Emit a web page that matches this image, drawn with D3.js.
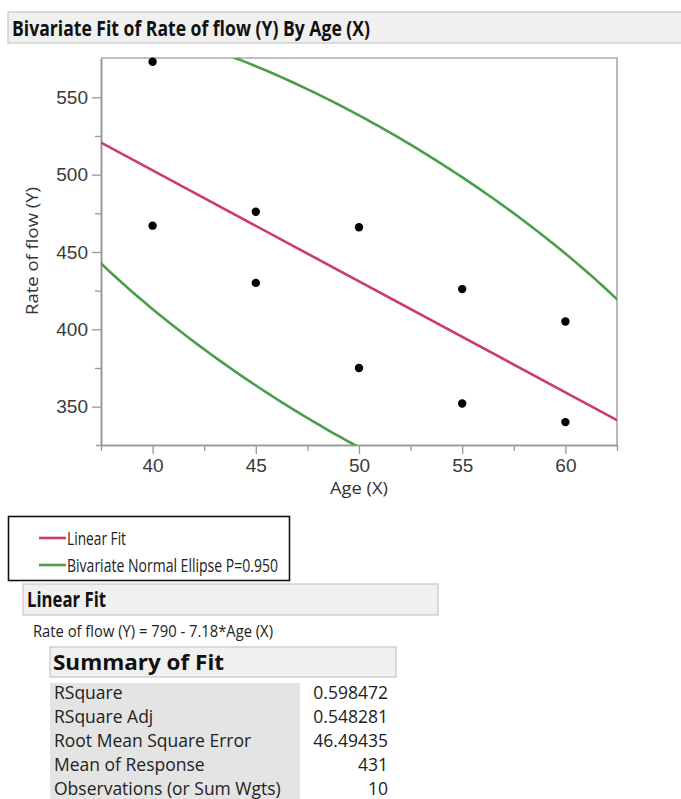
<!DOCTYPE html>
<html>
<head>
<meta charset="utf-8">
<script src="https://cdn.jsdelivr.net/npm/d3@7"></script>
<style>
  body { margin: 0; background: #fff; }
  svg { display: block; font-family: "Segoe UI", "Open Sans", sans-serif; }
</style>
</head>
<body>
<svg id="chart" width="681" height="799"></svg>
<script>
// data
const ages = [40, 40, 45, 45, 50, 50, 55, 55, 60, 60];
const flows = [573, 467, 476, 430, 466, 375, 426, 352, 405, 340];
const xTicks = [40, 45, 50, 55, 60];
const xMinor = [37.5, 42.5, 47.5, 52.5, 57.5, 62.5];
const yTicks = [350, 400, 450, 500, 550];
const yMinor = [375, 425, 475, 525];
const fitIntercept = 790;
const fitSlope = -7.18;
const ellipseP = 0.95;
const legendLabels = ["Linear Fit", "Bivariate Normal Ellipse P=0.950"];
const summaryLabels = ["RSquare", "RSquare Adj", "Root Mean Square Error", "Mean of Response", "Observations (or Sum Wgts)"];
const summaryValues = ["0.598472", "0.548281", "46.49435", "431", "10"];

const red = "#cc3d62";
const green = "#4a9e4a";

const svg = d3.select("#chart");

// small helper for text, optional width squeezes the glyphs
function addText(g, str, x, y, o) {
    const t = g.append("text")
        .attr("x", x).attr("y", y)
        .attr("font-size", o.size)
        .attr("font-weight", o.weight || "normal")
        .attr("text-anchor", o.anchor || "start")
        .attr("fill", o.fill || "#1a1a1a")
        .text(str);
    if (o.width) t.attr("textLength", o.width).attr("lengthAdjust", "spacingAndGlyphs");
    return t;
}

function headerBar(x, y, w, h, label, tx, ty, size, tw) {
    svg.append("rect")
        .attr("x", x).attr("y", y).attr("width", w).attr("height", h)
        .attr("fill", "#f0f0f0").attr("stroke", "#c6c6c6").attr("stroke-width", 1.2);
    addText(svg, label, tx, ty, { size: size, weight: "bold", width: tw, fill: "#111" });
}

// title
headerBar(8, 12, 690, 31, "Bivariate Fit of Rate of flow (Y) By Age (X)", 12, 36, 22, 358);

// plot area
const plot = { left: 101, right: 617, top: 58, bottom: 445 };

const x = d3.scaleLinear().domain([37.5, 62.5]).range([plot.left, plot.right]);
const y = d3.scaleLinear().domain([325.2, 575.4]).range([plot.bottom, plot.top]);

svg.append("clipPath").attr("id", "clip")
    .append("rect")
    .attr("x", plot.left).attr("y", plot.top)
    .attr("width", plot.right - plot.left).attr("height", plot.bottom - plot.top);

// frame (top/right)
svg.append("path")
    .attr("d", `M${plot.left},${plot.top}H${plot.right}V${plot.bottom}`)
    .attr("fill", "none").attr("stroke", "#aaa").attr("stroke-width", 1.6);

// axes
function styleAxis(g) {
    g.select(".domain").attr("stroke", "#999").attr("stroke-width", 1.6);
    g.selectAll(".tick line").attr("stroke", "#999").attr("stroke-width", 1.3);
    g.selectAll(".tick text").attr("fill", "#3a3a3a").attr("font-size", 19);
}

svg.append("g")
    .attr("transform", `translate(0,${plot.bottom})`)
    .call(d3.axisBottom(x).tickValues(xMinor).tickSize(6).tickFormat("").tickSizeOuter(0))
    .call(styleAxis);
svg.append("g")
    .attr("transform", `translate(0,${plot.bottom})`)
    .call(d3.axisBottom(x).tickValues(xTicks).tickSize(9).tickPadding(5).tickFormat(d3.format("d")).tickSizeOuter(0))
    .call(styleAxis)
    .call(g => g.select(".domain").attr("d", `M${plot.left - 5},0.5H${plot.right}`));

svg.append("g")
    .attr("transform", `translate(${plot.left},0)`)
    .call(d3.axisLeft(y).tickValues(yMinor).tickSize(6).tickFormat("").tickSizeOuter(0))
    .call(styleAxis);
svg.append("g")
    .attr("transform", `translate(${plot.left},0)`)
    .call(d3.axisLeft(y).tickValues(yTicks).tickSize(9).tickPadding(4).tickFormat(d3.format("d")).tickSizeOuter(0))
    .call(styleAxis);

// axis titles
addText(svg, "Age (X)", (plot.left + plot.right) / 2, 494, { size: 16.5, anchor: "middle", fill: "#333", width: 58 });
addText(svg, "Rate of flow (Y)", 0, 0, { size: 16.5, anchor: "middle", fill: "#333", width: 128 })
    .attr("transform", `translate(38,251) rotate(-90)`);

// bivariate normal density ellipse from the sample mean and covariance
const n = ages.length;
const mx = d3.mean(ages), my = d3.mean(flows);
const sxx = d3.sum(ages, a => (a - mx) ** 2) / (n - 1);
const syy = d3.sum(flows, f => (f - my) ** 2) / (n - 1);
const sxy = d3.sum(ages, (a, i) => (a - mx) * (flows[i] - my)) / (n - 1);
const c = Math.sqrt(-2 * Math.log(1 - ellipseP));
const l11 = Math.sqrt(sxx), l21 = sxy / l11, l22 = Math.sqrt(syy - l21 * l21);
const ellipse = d3.range(0, 361).map(deg => {
    const t = deg * Math.PI / 180;
    const u = Math.cos(t), v = Math.sin(t);
    return [mx + c * l11 * u, my + c * (l21 * u + l22 * v)];
});

const marks = svg.append("g").attr("clip-path", "url(#clip)");

marks.append("path")
    .datum(ellipse)
    .attr("d", d3.line().x(d => x(d[0])).y(d => y(d[1])))
    .attr("fill", "none").attr("stroke", green).attr("stroke-width", 2.6);

const fitLine = x.domain().map(a => [a, fitIntercept + fitSlope * a]);
marks.append("path")
    .datum(fitLine)
    .attr("d", d3.line().x(d => x(d[0])).y(d => y(d[1])))
    .attr("fill", "none").attr("stroke", red).attr("stroke-width", 2.6);

svg.append("g").selectAll("circle")
    .data(ages)
    .enter().append("circle")
    .attr("cx", d => x(d))
    .attr("cy", (d, i) => y(flows[i]))
    .attr("r", 4.2)
    .attr("fill", "#000");

// legend
svg.append("rect")
    .attr("x", 8.5).attr("y", 516.5).attr("width", 281).attr("height", 64)
    .attr("fill", "#fff").attr("stroke", "#111").attr("stroke-width", 1.6);
const legendColors = [red, green];
const legendWidths = [59, 211];
legendLabels.forEach((lab, i) => {
    const ly = 538 + i * 27;
    svg.append("line")
        .attr("x1", 39).attr("x2", 66).attr("y1", ly).attr("y2", ly)
        .attr("stroke", legendColors[i]).attr("stroke-width", 2.6);
    addText(svg, lab, 67, ly + 7, { size: 18, width: legendWidths[i], fill: "#222" });
});

// linear fit report
headerBar(23, 584, 415, 31, "Linear Fit", 27, 607, 21, 79);
addText(svg, "Rate of flow (Y) = 790 - 7.18*Age (X)", 33, 637, { size: 17, width: 240, fill: "#222" });

headerBar(50, 647, 346, 30, "Summary of Fit", 53, 670, 21, 171);

svg.append("rect")
    .attr("x", 50).attr("y", 683).attr("width", 250).attr("height", 116)
    .attr("fill", "#e4e4e4");

summaryLabels.forEach((lab, i) => {
    const ry = 699 + i * 24;
    addText(svg, lab, 54, ry, { size: 17.5, fill: "#222" });
    addText(svg, summaryValues[i], 388, ry, { size: 17.5, anchor: "end", fill: "#222" });
});
</script>
</body>
</html>
